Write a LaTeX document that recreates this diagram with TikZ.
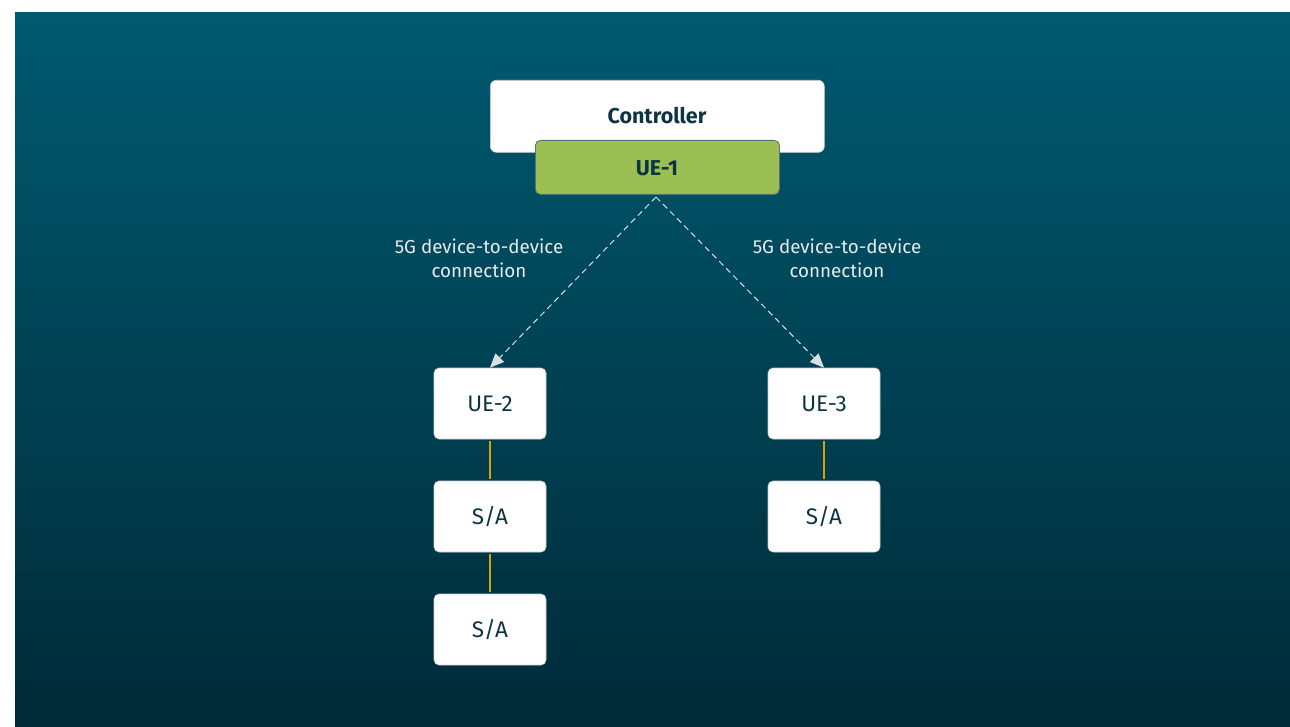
\documentclass[tikz,border=0pt]{standalone}
\usepackage{fontspec}
\setmainfont{Fira Sans}
\usetikzlibrary{arrows.meta,positioning}
\definecolor{bgtop}{HTML}{005A70}
\definecolor{bgbot}{HTML}{002A38}
\definecolor{ink}{HTML}{0E3443}
\definecolor{uegreen}{HTML}{9BBF52}
\definecolor{linkgold}{HTML}{D4A50A}
\definecolor{dashgray}{HTML}{D8E0E4}
\tikzset{
  px/.style={x=1pt,y=-1pt},
  whitebox/.style={draw=gray!40,line width=0.6pt,fill=white,rounded corners=5pt,
    minimum width=112pt,minimum height=71pt,inner sep=0pt,text=ink,
    font=\fontsize{22.5}{26}\selectfont},
  titletext/.style={text=ink,font=\bfseries\fontsize{21.5}{26}\selectfont},
  d2d/.style={draw=dashgray,line width=1pt,dash pattern=on 6pt off 4pt,
    -{Triangle[length=14pt,width=12pt,fill=dashgray]}},
  wire/.style={draw=linkgold,line width=1.6pt},
  caption/.style={text=white!90!ink,align=center,font=\fontsize{18.8}{24}\selectfont}
}
\begin{document}
\begin{tikzpicture}[px]
  \useasboundingbox (0,0) rectangle (1290,727);
  % backdrop
  \shade[top color=bgtop,bottom color=bgbot] (15,13) rectangle (1290,727);

  % controller with its UE
  \node[draw=gray!40,line width=0.6pt,fill=white,rounded corners=6pt,
        minimum width=334pt,minimum height=72pt,anchor=north west]
        (ctrl) at (490,80) {};
  \node[titletext] (ctrltext) at (657,116) {Controller};
  \node[draw=ink!70,line width=0.8pt,fill=uegreen,rounded corners=5pt,
        minimum width=244pt,minimum height=54pt,anchor=north west]
        (ue1) at (535,140) {};
  \node[titletext] (ue1text) at (657,168) {UE-1};
  \coordinate (src) at (656,197);

  % remote UEs and their sensors/actuators
  \node[whitebox] (ue2) at (490,403.5) {UE-2};
  \node[whitebox] (sa1) at (490,516.5) {S/A};
  \node[whitebox] (sa2) at (490,629.5) {S/A};
  \node[whitebox] (ue3) at (824,403.5) {UE-3};
  \node[whitebox] (sa3) at (824,516.5) {S/A};

  % device-to-device links
  \draw[d2d] (src) -- (ue2.north);
  \draw[d2d] (src) -- (ue3.north);
  \node[caption] (lblL) at (479,258) {5G device-to-device\\connection};
  \node[caption] (lblR) at (837,258) {5G device-to-device\\connection};

  % wired links
  \draw[wire] ([yshift=-2pt]ue2.south) -- ([yshift=2pt]sa1.north);
  \draw[wire] ([yshift=-2pt]sa1.south) -- ([yshift=2pt]sa2.north);
  \draw[wire] ([yshift=-2pt]ue3.south) -- ([yshift=2pt]sa3.north);
\end{tikzpicture}
\end{document}
